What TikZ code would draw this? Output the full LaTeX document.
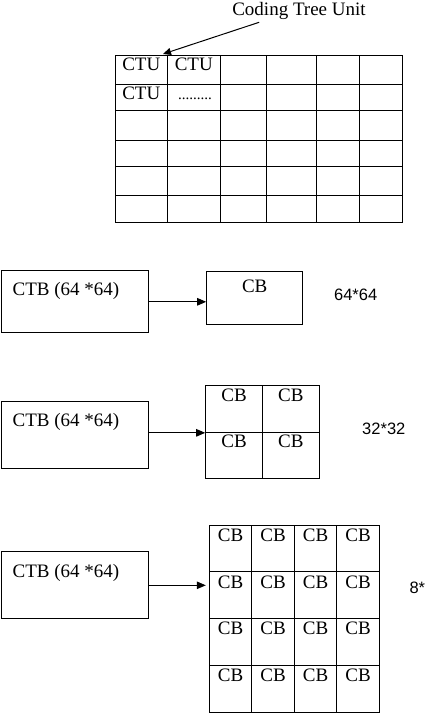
\documentclass[tikz,border=0pt]{standalone}
\usepackage{fontspec}
\setmainfont{Liberation Serif}
\newfontfamily\sansfnt{Liberation Sans}
\usetikzlibrary{arrows.meta,calc}
\begin{document}
\begin{tikzpicture}[x=1pt,y=-1pt,
        box/.style={draw,line width=1pt,inner sep=0pt},
        txt/.style={anchor=base,inner sep=0pt,font=\fontsize{19}{22}\selectfont},
        dim/.style={anchor=base,inner sep=0pt,font=\sansfnt\fontsize{16.5}{20}\selectfont},
        arr/.style={-{Triangle[length=9pt,width=7.5pt]},line width=1pt}]
        \useasboundingbox (0,0) rectangle (426,726);

        % coding tree units
        \draw[line width=1pt] (115,55) rectangle (402,222);
        \foreach \x in {167.7,220,266,316.7,359.3}
            \draw[line width=1pt] (\x,55) -- (\x,222);
        \foreach \y in {84,110.7,140,166.7,195}
            \draw[line width=1pt] (115,\y) -- (402,\y);

        \node[txt] (ctuA) at (141.3,70.7) {CTU};
        \node[txt] (ctuB) at (193.8,70.7) {CTU};
        \node[txt] (ctuC) at (141.3,99.3) {CTU};
        \node[txt,font=\fontsize{15}{18}\selectfont] (ctudots) at (195,99.3) {.........};

        \node[txt] (cdlabel) at (299,15) {Coding Tree Unit};
        \coordinate (ctutip) at (163,54);
        \draw[arr,-{Triangle[length=8pt,width=7pt]}] ($(cdlabel.south west)+(27,3)$) -- (ctutip);

        % 64*64
        \node[box,minimum width=147pt,minimum height=61.7pt] (ctbA) at (74.5,301.8) {};
        \node[txt,anchor=base west] at ($(ctbA.north west)+(12,25)$) {CTB (64 *64)};
        \node[box,minimum width=96pt,minimum height=53.3pt] (cbA) at (254.7,297.7) {};
        \node[txt] at ($(cbA.north)+(0,21.7)$) {CB};
        \draw[arr] (ctbA.east) -- (ctbA.east -| cbA.west);
        \node[dim] (sizeA) at (355.7,300.7) {64*64};

        % 32*32
        \node[box,minimum width=147pt,minimum height=66.6pt] (ctbB) at (74.5,435) {};
        \node[txt,anchor=base west] at ($(ctbB.north west)+(12,25)$) {CTB (64 *64)};
        \foreach \r in {0,1}
            \foreach \c in {0,1} {
                \node[box,minimum width=56.8pt,minimum height=46.65pt] (cbB-\r-\c)
                    at ({234.1+56.8*\c},{409+46.65*\r}) {};
                \node[txt] at ($(cbB-\r-\c.north)+(0,16)$) {CB};
            }
        \draw[arr] (cbB-0-0.south west -| ctbB.east) -- (cbB-0-0.south west);
        \node[dim] (sizeB) at (383.8,434) {32*32};

        % 8*8
        \node[box,minimum width=147pt,minimum height=67.3pt] (ctbC) at (74.5,585.3) {};
        \node[txt,anchor=base west] at ($(ctbC.north west)+(12,26)$) {CTB (64 *64)};
        \foreach \r in {0,...,3}
            \foreach \c in {0,...,3} {
                \node[box,minimum width=42.5pt,minimum height=46.8pt] (cbC-\r-\c)
                    at ({230.55+42.5*\c},{548.4+46.8*\r}) {};
                \node[txt] at ($(cbC-\r-\c.north)+(0,16.7)$) {CB};
            }
        \draw[arr,shorten >=3pt] (ctbC.east) -- (ctbC.east -| cbC-1-0.west);
        \node[dim,anchor=base west] (sizeC) at (409.3,593.3) {8*};
    \end{tikzpicture}
\end{document}
